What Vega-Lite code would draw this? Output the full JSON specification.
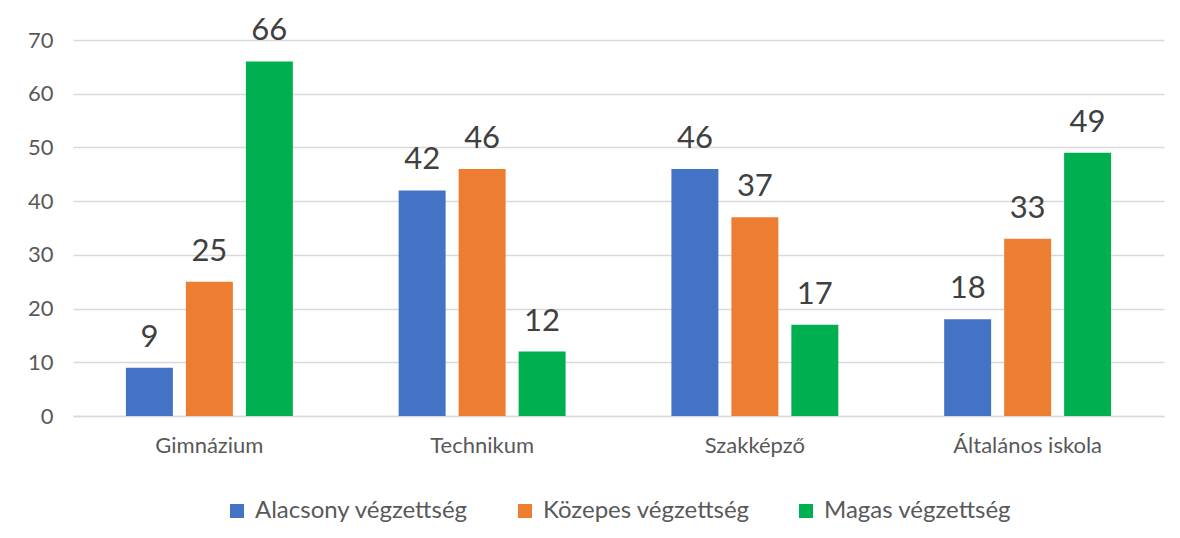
{
  "$schema": "https://vega.github.io/schema/vega-lite/v6.json",
  "autosize": "none",
  "width": 1091,
  "height": 376,
  "padding": {"left": 73, "top": 40, "right": 16, "bottom": 122},
  "background": "white",
  "config": {
    "view": {"stroke": null},
    "font": "Lato",
    "legend": {"layout": {"bottom": {"anchor": "middle"}}}
  },
  "data": {
    "values": [
      {"iskola": "Gimnázium", "vegzettseg": "Alacsony végzettség", "ertek": 9},
      {"iskola": "Gimnázium", "vegzettseg": "Közepes végzettség", "ertek": 25},
      {"iskola": "Gimnázium", "vegzettseg": "Magas végzettség", "ertek": 66},
      {"iskola": "Technikum", "vegzettseg": "Alacsony végzettség", "ertek": 42},
      {"iskola": "Technikum", "vegzettseg": "Közepes végzettség", "ertek": 46},
      {"iskola": "Technikum", "vegzettseg": "Magas végzettség", "ertek": 12},
      {"iskola": "Szakképző", "vegzettseg": "Alacsony végzettség", "ertek": 46},
      {"iskola": "Szakképző", "vegzettseg": "Közepes végzettség", "ertek": 37},
      {"iskola": "Szakképző", "vegzettseg": "Magas végzettség", "ertek": 17},
      {"iskola": "Általános iskola", "vegzettseg": "Alacsony végzettség", "ertek": 18},
      {"iskola": "Általános iskola", "vegzettseg": "Közepes végzettség", "ertek": 33},
      {"iskola": "Általános iskola", "vegzettseg": "Magas végzettség", "ertek": 49}
    ]
  },
  "encoding": {
    "x": {
      "field": "iskola", "type": "nominal", "sort": null,
      "scale": {"paddingInner": 0.388, "paddingOuter": 0.194},
      "axis": {
        "title": null, "labelAngle": 0, "ticks": false,
        "domainColor": "#d9d9d9", "domainWidth": 1.5,
        "labelFontSize": 22, "labelColor": "#595959", "labelPadding": 19, "labelFont": "Lato"
      }
    },
    "xOffset": {
      "field": "vegzettseg", "type": "nominal", "sort": null,
      "scale": {"paddingInner": 0.217, "paddingOuter": 0}
    },
    "y": {
      "field": "ertek", "type": "quantitative",
      "scale": {"domain": [0, 70]},
      "axis": {
        "title": null, "values": [0, 10, 20, 30, 40, 50, 60, 70],
        "domain": false, "ticks": false,
        "gridColor": "#d9d9d9", "gridWidth": 1.5,
        "labelFontSize": 22, "labelColor": "#595959", "labelPadding": 20, "labelFont": "Lato"
      }
    }
  },
  "layer": [
    {
      "mark": {"type": "bar"},
      "encoding": {
        "color": {
          "field": "vegzettseg", "type": "nominal", "sort": null,
          "scale": {
            "domain": ["Alacsony végzettség", "Közepes végzettség", "Magas végzettség"],
            "range": ["#4472C4", "#ED7D31", "#00B050"]
          },
          "legend": {
            "title": null, "orient": "bottom", "direction": "horizontal",
            "symbolType": "square", "symbolSize": 196, "symbolStrokeWidth": 0,
            "labelFontSize": 24, "labelColor": "#595959", "labelFont": "Lato",
            "labelLimit": 400,
            "columnPadding": 44, "offset": 43, "labelOffset": 6
          }
        }
      }
    },
    {
      "mark": {"type": "text", "baseline": "alphabetic", "dy": -21, "fontSize": 31, "color": "#404040", "font": "Lato"},
      "encoding": {
        "text": {"field": "ertek", "type": "quantitative"}
      }
    }
  ]
}
